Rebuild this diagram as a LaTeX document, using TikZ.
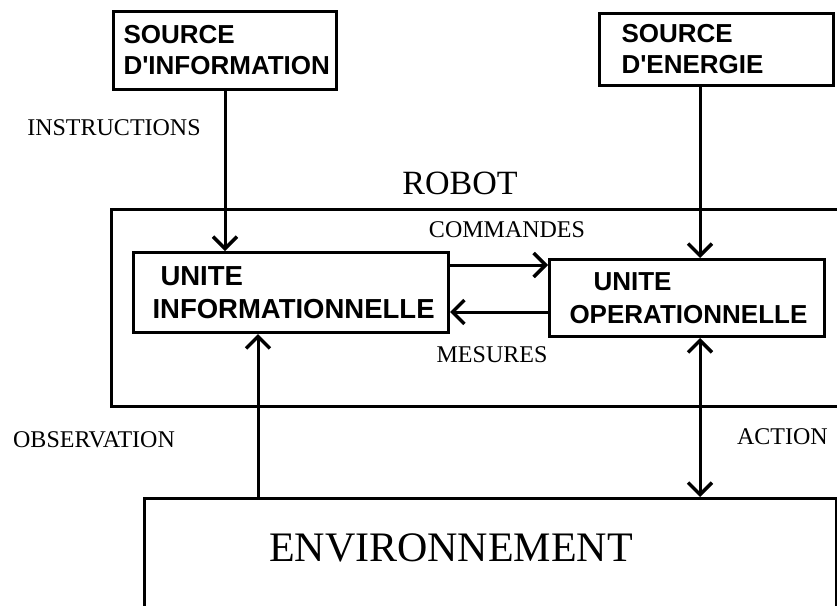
\documentclass[tikz,border=0pt]{standalone}
\usepackage{fontspec}
\setmainfont{Liberation Serif}
\newfontfamily\boxfont{Liberation Sans}
\usetikzlibrary{arrows.meta}
\begin{document}
\begin{tikzpicture}[x=1pt,y=-1pt,
  frame/.style={draw, line width=3pt, rectangle, inner sep=0pt, anchor=north west},
  sbox/.style={frame, align=left, font=\boxfont\bfseries\fontsize{26}{31}\selectfont},
  ubox/.style={frame, align=left, font=\boxfont\bfseries\fontsize{26}{33}\selectfont},
  lbl/.style={font=\fontsize{24}{28}\selectfont, inner sep=0pt},
  tip/.tip={Straight Barb[length=12pt,width=24pt,line width=3.5pt]},
  arr/.style={line width=3pt, -tip},
  darr/.style={line width=3pt, tip-tip},
]
\useasboundingbox (0,0) rectangle (837,605);
\clip (0,0) rectangle (837,605);

% source boxes
\node[sbox, inner xsep=10pt, text width=203pt, minimum height=78pt] (si) at (112,10) {SOURCE\\D'INFORMATION};
\node[sbox, inner xsep=22pt, text width=190pt, minimum height=72pt] (se) at (598,12) {SOURCE\\D'ENERGIE};

% robot and environment frames
\node[frame, minimum width=760pt, minimum height=197pt] (robot) at (110,208) {};
\node[frame, minimum width=692pt, minimum height=120pt] (env) at (143,497) {};

% units
\node[ubox, font=\boxfont\bfseries\fontsize{27.5}{33}\selectfont, inner xsep=19pt, text width=277pt, minimum height=80pt] (ui) at (132,251) {\hspace*{8pt}UNITE\\INFORMATIONNELLE};
\node[ubox, inner xsep=20pt, text width=235pt, minimum height=77pt] (uo) at (548,258) {\hspace*{24pt}UNITE\\OPERATIONNELLE};

% labels
\node[lbl] (instr) at (114,128) {INSTRUCTIONS};
\node[lbl, font=\fontsize{34}{40}\selectfont] (robotlbl) at (460,183) {ROBOT};
\node[lbl] (cmd) at (507,230) {COMMANDES};
\node[lbl] (mes) at (492,355) {MESURES};
\node[lbl] (obs) at (94,440) {OBSERVATION};
\node[lbl, anchor=east] (act) at (828,437) {ACTION};
\node[lbl, font=\fontsize{42}{48}\selectfont] (envtxt) at (451,548) {ENVIRONNEMENT};

% connectors
\draw[arr] (si.south) -- (si.south |- ui.north);
\draw[arr] ([xshift=102pt]se.south west) -- ([xshift=102pt]se.south west |- uo.north);
\draw[arr] ([yshift=-14pt]ui.north east) -- ([yshift=-14pt]ui.north east -| uo.west);
\draw[arr] ([yshift=-54pt]uo.north west) -- ([yshift=-54pt]uo.north west -| ui.east);
\draw[arr] ([xshift=126pt]ui.south west |- env.north) -- ([xshift=126pt]ui.south west);
\draw[darr] ([xshift=152pt]uo.south west) -- ([xshift=152pt]uo.south west |- env.north);
\end{tikzpicture}
\end{document}
